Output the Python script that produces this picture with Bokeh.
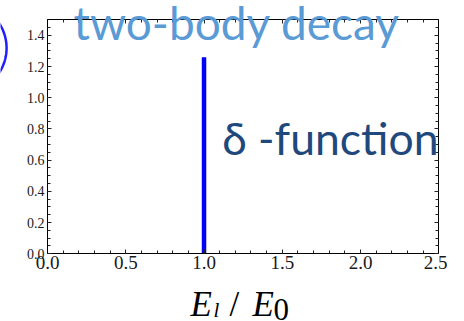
import numpy as np
from bokeh.plotting import figure
from bokeh.models import (LinearAxis, SingleIntervalTicker, PrintfTickFormatter,
                          Label, PolyAnnotation, Range1d)
from bokeh.embed import file_html
from bokeh.resources import INLINE

# Two-body decay: the lepton energy spectrum is a single spike at E_l = E_0
peak_position = [1.0]
peak_base = [0.0]
peak_height = [1.26]

# extent of the boxed plot area (data units)
x_box = (0.0, 2.5)
y_box = (0.0, 1.5)

# the canvas is the plotting frame; the box sits inside it with room for labels
p = figure(width=447, height=321,
           x_range=Range1d(-0.3003, 2.5556), y_range=Range1d(-0.4340, 1.6237),
           output_backend="svg", toolbar_location=None,
           x_axis_location=None, y_axis_location=None,
           min_border=0)
p.grid.visible = False
p.outline_line_color = None
p.background_fill_color = "white"
p.border_fill_color = "white"


def box_axis(interval, minor, font_size, location, bounds, labelled=True):
    ax = LinearAxis(ticker=SingleIntervalTicker(interval=interval, num_minor_ticks=minor),
                    formatter=PrintfTickFormatter(format="%.1f"),
                    fixed_location=location, bounds=bounds)
    ax.axis_line_color = "black"
    ax.axis_line_width = 1
    ax.major_tick_in = 4
    ax.major_tick_out = 0
    ax.minor_tick_in = 3
    ax.minor_tick_out = 0
    ax.major_tick_line_color = "#222222"
    ax.minor_tick_line_color = "#222222"
    ax.major_label_text_font = "Liberation Serif"
    ax.major_label_text_font_size = font_size
    ax.major_label_text_color = "#1a1a1a" if labelled else None
    return ax


bottom = box_axis(0.5, 5, "19px", y_box[0], x_box)
bottom.major_label_standoff = 2
left = box_axis(0.2, 4, "14px", x_box[0], y_box)
left.major_label_standoff = 3
top = box_axis(0.5, 5, "14px", y_box[1], x_box, labelled=False)
right = box_axis(0.2, 4, "14px", x_box[1], y_box, labelled=False)
p.add_layout(bottom, "below")
p.add_layout(left, "left")
p.add_layout(top, "above")
p.add_layout(right, "right")

# the delta-function spike
p.segment(x0=peak_position, y0=peak_base, x1=peak_position, y1=peak_height,
          line_color="#0000ff", line_width=4.5)

# headline and annotation text
p.add_layout(Label(x=0.166, y=1.481, text="two-body decay", text_font="Lato",
                   text_font_size="46px", text_color="#5b9bd5",
                   text_baseline="middle"))
p.add_layout(Label(x=1.116, y=0.748, text="δ -function", text_font="Lato",
                   text_font_size="44.5px", text_color="#1f497d",
                   text_baseline="middle"))

# axis title E_l / E_0 built from pieces
serif = "Liberation Serif"
p.add_layout(Label(x=0.914, y=-0.326, text="E", text_font=serif, text_font_style="italic",
                   text_font_size="35px", text_color="black", text_baseline="middle"))
p.add_layout(Label(x=1.061, y=-0.358, text="l", text_font=serif, text_font_style="italic",
                   text_font_size="21px", text_color="black", text_baseline="middle"))
p.add_layout(Label(x=1.163, y=-0.326, text="/", text_font=serif,
                   text_font_size="35px", text_color="black", text_baseline="middle"))
p.add_layout(Label(x=1.310, y=-0.326, text="E", text_font=serif, text_font_style="italic",
                   text_font_size="35px", text_color="black", text_baseline="middle"))
p.add_layout(Label(x=1.444, y=-0.358, text="0", text_font=serif,
                   text_font_size="31px", text_color="black", text_baseline="middle"))

# edge of a highlight ring reaching in from the left margin
theta = np.linspace(-np.pi / 2, np.pi / 2, 60)
ring_x = -0.549 + 0.2875 * np.cos(theta)
ring_y = 1.319 + 0.2885 * np.sin(theta)
p.add_layout(PolyAnnotation(xs=list(ring_x), ys=list(ring_y), xs_units="data", ys_units="data",
                            fill_alpha=0, line_color="#1f1fff", line_alpha=1.0,
                            line_width=2.5))

open("out.html", "w").write(file_html(p, INLINE))
